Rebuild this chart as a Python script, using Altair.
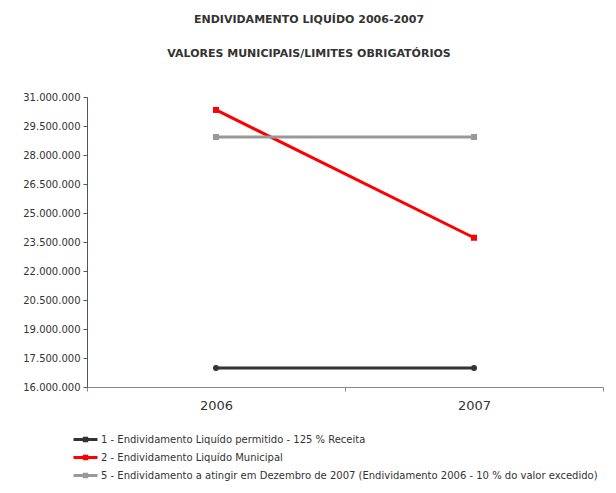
import altair as alt
import pandas as pd

years = ["2006", "2007"]
series = [
    "1 - Endividamento Liquído permitido - 125 % Receita",
    "2 - Endividamento Liquído Municipal",
    "5 - Endividamento a atingir em Dezembro de 2007 (Endividamento 2006 - 10 % do valor excedido)",
]
permitido = [16980000, 16980000]
municipal = [30330000, 23720000]
atingir = [28930000, 28930000]
y_ticks = [16000000, 17500000, 19000000, 20500000, 22000000, 23500000,
           25000000, 26500000, 28000000, 29500000, 31000000]
colors = ["#333333", "#ff0000", "#999999"]
circle_series = [series[0]]

rows = []
for s, vals in zip(series, [permitido, municipal, atingir]):
    for yr, v in zip(years, vals):
        rows.append({"serie": s, "ano": yr, "valor": v,
                     "circulo": s in circle_series})
df = pd.DataFrame(rows)

font = "DejaVu Sans"
dot_fmt = "replace(replace(format(datum.value, ','), ',', '.'), ',', '.')"

x = alt.X("ano:O", title=None,
          scale=alt.Scale(type="band", paddingInner=0, paddingOuter=0),
          bandPosition=0.5,
          axis=alt.Axis(labelAngle=0, tickBand="extent", labelFontSize=13,
                        labelColor="#333333", labelFont=font, labelPadding=8,
                        domainColor="#888888", tickColor="#888888", tickSize=4))
y = alt.Y("valor:Q", title=None,
          scale=alt.Scale(domain=[16000000, 31000000], nice=False, zero=False),
          axis=alt.Axis(values=y_ticks, labelExpr=dot_fmt, grid=False,
                        labelFontSize=10, labelColor="#333333", labelFont=font,
                        domainColor="#555555", tickColor="#555555", tickSize=4,
                        labelPadding=3))
cscale = alt.Scale(domain=series, range=colors)
color = alt.Color("serie:N", scale=cscale,
                  legend=alt.Legend(orient="none", legendX=-11, legendY=333,
                                    title=None, direction="vertical",
                                    symbolType="M-1.5,0H1.5M-0.15,-0.15H0.15V0.15H-0.15Z",
                                    symbolSize=256, symbolStrokeWidth=3,
                                    labelFontSize=10, labelFont=font,
                                    labelColor="#333333", labelOffset=6,
                                    rowPadding=1, padding=0, labelLimit=700))

lines = alt.Chart(df).mark_line(strokeWidth=3).encode(x=x, y=y, color=color)
circles = alt.Chart(df).transform_filter("datum.circulo").mark_point(
    filled=True, size=36, opacity=1, shape="circle").encode(
    x=x, y=y, color=alt.Color("serie:N", scale=cscale, legend=None))
squares = alt.Chart(df).transform_filter("!datum.circulo").mark_point(
    filled=True, size=36, opacity=1, shape="square").encode(
    x=x, y=y, color=alt.Color("serie:N", scale=cscale, legend=None))

chart = alt.layer(lines, circles, squares).properties(
    width=516, height=290,
    autosize=alt.AutoSizeParams(type="none"),
    padding={"left": 79, "top": 89, "right": 5, "bottom": 95},
    title=alt.TitleParams(
        text="ENDIVIDAMENTO LIQUÍDO 2006-2007",
        subtitle="VALORES MUNICIPAIS/LIMITES OBRIGATÓRIOS",
        font=font, fontSize=11, fontWeight="bold", color="#333333",
        subtitleFont=font, subtitleFontSize=11, subtitleFontWeight="bold",
        subtitleColor="#333333", subtitlePadding=23,
        anchor="middle", dx=-36, offset=33,
    ),
).configure_view(stroke=None)

chart.save("out.html", embed_options={"renderer": "svg", "actions": False})
